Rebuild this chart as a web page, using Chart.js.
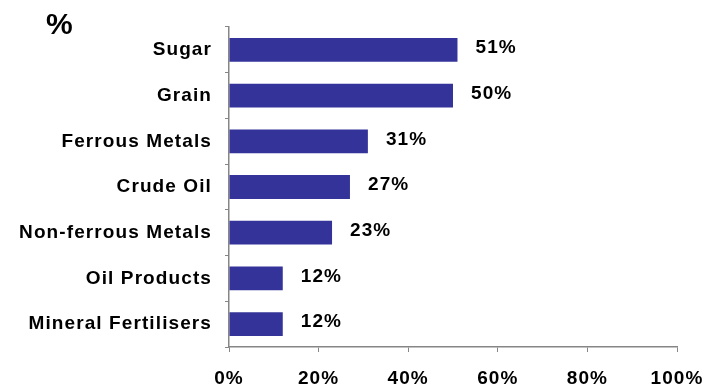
<!DOCTYPE html>
<html>
<head>
<meta charset="utf-8">
<script src="https://cdn.jsdelivr.net/npm/chart.js@4"></script>
<style>
  body { margin: 0; background: #fff; }
  #wrap { width: 704px; height: 387px; }
</style>
</head>
<body>
<div id="wrap"><canvas id="chart" width="704" height="387"></canvas></div>
<script>
const categories = ['Sugar', 'Grain', 'Ferrous Metals', 'Crude Oil', 'Non-ferrous Metals', 'Oil Products', 'Mineral Fertilisers'];
const shares = [51, 50, 31, 27, 23, 12, 12];
const xTicks = [0, 20, 40, 60, 80, 100];

const FONT = "'Liberation Sans', Arial, sans-serif";
const axisColor = '#868686';

// slightly spaced bold text like the original
const letterSpacingPlugin = {
  id: 'spacing',
  beforeUpdate(chart) { chart.ctx.letterSpacing = '1.1px'; },
  beforeDraw(chart) { chart.ctx.letterSpacing = '1.1px'; }
};

// value labels next to each bar + the "%" unit in the corner
const labelsPlugin = {
  id: 'labels',
  afterDatasetsDraw(chart) {
    const ctx = chart.ctx;
    const meta = chart.getDatasetMeta(0);
    ctx.save();
    ctx.font = 'bold 19px ' + FONT;
    ctx.fillStyle = '#000';
    ctx.textAlign = 'left';
    ctx.textBaseline = 'middle';
    meta.data.forEach((bar, i) => {
      ctx.fillText(shares[i] + '%', bar.x + 18, bar.y - 2);
    });
    ctx.letterSpacing = '0px';
    ctx.font = 'bold 30px ' + FONT;
    ctx.textBaseline = 'alphabetic';
    ctx.fillText('%', 46, 34);
    ctx.restore();
  }
};

new Chart(document.getElementById('chart'), {
  type: 'bar',
  data: {
    labels: categories,
    datasets: [{
      data: shares,
      backgroundColor: '#333399',
      barPercentage: 0.52,
      categoryPercentage: 1
    }]
  },
  options: {
    indexAxis: 'y',
    responsive: false,
    animation: false,
    layout: { padding: { top: 27, right: 27, left: 0, bottom: 0 } },
    plugins: {
      legend: { display: false },
      tooltip: { enabled: false }
    },
    scales: {
      x: {
        min: 0,
        max: 100,
        afterFit(scale) {
          scale.height = 40;
          scale.paddingLeft = 0;
          scale.paddingRight = 0;
        },
        afterBuildTicks(scale) { scale.ticks = xTicks.map(v => ({ value: v })); },
        ticks: {
          callback: v => v + '%',
          color: '#000',
          font: { family: FONT, size: 19, weight: 'bold' },
          padding: 15,
          maxRotation: 0
        },
        grid: { drawOnChartArea: false, tickLength: 5, color: axisColor },
        border: { color: axisColor, width: 1.5 }
      },
      y: {
        afterFit(scale) { scale.width = 229; },
        ticks: {
          color: '#000',
          font: { family: FONT, size: 19, weight: 'bold' },
          padding: 13
        },
        grid: { drawOnChartArea: false, offset: true, tickLength: 4, color: axisColor },
        border: { color: axisColor, width: 1.5 }
      }
    }
  },
  plugins: [letterSpacingPlugin, labelsPlugin]
});
</script>
</body>
</html>
